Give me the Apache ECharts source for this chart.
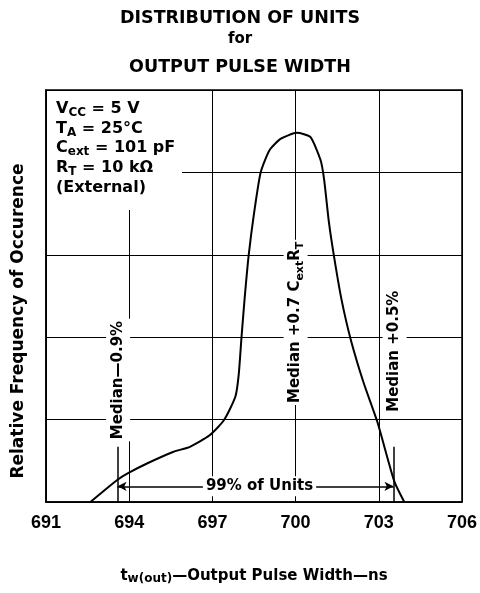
<!DOCTYPE html>
<html><head><meta charset="utf-8">
<script src="https://cdn.jsdelivr.net/npm/echarts@6/dist/echarts.min.js"></script>
<style>html,body{margin:0;padding:0;background:#fff}#c{width:480px;height:593px}</style>
</head><body><div id="c"></div>
<script>
// Axis
const xTicks = [691, 694, 697, 700, 703, 706];
const yMax = 5;
// Distribution curve (tw in ns, relative frequency)
const curveX = [692.6, 693.1, 693.58, 693.96, 694.66, 695.6, 696.19, 696.9, 697.42, 697.83, 697.95, 698.05, 698.17, 698.31, 698.5, 698.74, 699.06, 699.47, 700.05, 700.53, 700.9, 701.03, 701.2, 701.4, 701.66, 701.99, 702.45, 702.95, 703.56, 703.92];
const curveY = [0, 0.14, 0.27, 0.35, 0.47, 0.61, 0.67, 0.81, 0.995, 1.28, 1.55, 2.0, 2.5, 3.0, 3.5, 4.0, 4.27, 4.41, 4.48, 4.43, 4.15, 3.91, 3.4, 2.95, 2.45, 1.97, 1.45, 0.97, 0.25, 0];
// Annotation markers
const medianLow = 693.58, medianHigh = 703.53;
const markerTop = 0.67;
const arrowY = 0.19;
const labelTexts = ['Median\u20140.9%', 'Median +0.7 C{sub|ext}R{sub|T}', 'Median +0.5%', '99% of Units'];
const labelPos = [[693.6, 1.48], [700, 2.18], [703.57, 1.83], [698.7, 0.19]];
const conditions = ['V{sub|CC} = 5 V', 'T{sub|A} = 25\u00b0C', 'C{sub|ext} = 101 pF', 'R{sub|T} = 10 k\u03a9', '(External)'];

const chart = echarts.init(document.getElementById('c'), null, {renderer: 'canvas'});
const F = 'DejaVu Sans';
const richRot = {
  n: {fontFamily: F, fontWeight: 'bold', fontSize: 15, color: '#000', lineHeight: 20, verticalAlign: 'middle'},
  sub: {fontFamily: F, fontWeight: 'bold', fontSize: 11, color: '#000', lineHeight: 12, verticalAlign: 'bottom'}
};
const annotData = labelTexts.map((t, i) => ({
  value: labelPos[i],
  label: {
    show: true, position: 'inside', rotate: i < 3 ? 90 : 0,
    color: '#000', textBorderWidth: 0, opacity: 1,
    formatter: '{n|' + t.replace(/\{sub\|([^}]*)\}/g, '}{sub|$1}{n|') + '}',
    backgroundColor: '#fff', padding: i < 3 ? [2, 2, 2, 2] : [0, 3, 0, 3],
    rich: richRot
  }
}));

const option = {
  animation: false,
  backgroundColor: '#fff',
  grid: {left: 46, right: 13, top: 90, bottom: 91, show: true, borderColor: '#000', borderWidth: 1.5},
  xAxis: {
    type: 'value', min: xTicks[0], max: xTicks[xTicks.length - 1], interval: 3,
    axisLine: {show: true, lineStyle: {color: '#000', width: 1.5}},
    axisTick: {show: false},
    splitLine: {show: true, lineStyle: {color: '#000', width: 1}},
    axisLabel: {show: true, margin: 12, fontFamily: 'Liberation Sans', fontWeight: 'bold', fontSize: 18, color: '#000',
      customValues: xTicks, formatter: v => String(v)},
    name: '{t|t}{s|w(out)}{t|\u2014Output Pulse Width\u2014ns}',
    nameLocation: 'middle', nameGap: 65,
    nameTextStyle: {rich: {
      t: {fontFamily: F, fontWeight: 'bold', fontSize: 15, color: '#000', lineHeight: 18, verticalAlign: 'middle'},
      s: {fontFamily: F, fontWeight: 'bold', fontSize: 12, color: '#000', lineHeight: 12, verticalAlign: 'bottom'}
    }}
  },
  yAxis: {
    type: 'value', min: 0, max: yMax, interval: 1,
    axisLine: {show: true, lineStyle: {color: '#000', width: 1.5}},
    axisTick: {show: false}, axisLabel: {show: false},
    splitLine: {show: true, lineStyle: {color: '#000', width: 1}}
  },
  graphic: [
    {type: 'text', left: 'center', top: 9, style: {text: 'DISTRIBUTION OF UNITS', font: 'bold 17.5px "DejaVu Sans"', fill: '#000'}, z: 10},
    {type: 'text', left: 'center', top: 32, style: {text: 'for', font: 'bold 15px "DejaVu Sans"', fill: '#000'}, z: 10},
    {type: 'text', left: 'center', top: 58, style: {text: 'OUTPUT PULSE WIDTH', font: 'bold 17.5px "DejaVu Sans"', fill: '#000'}, z: 10},
    {type: 'text', x: 19, y: 321, rotation: Math.PI / 2, style: {text: 'Relative Frequency of Occurence', font: 'bold 17px "DejaVu Sans"', fill: '#000', align: 'center', verticalAlign: 'middle'}, z: 10},
    {type: 'rect', shape: {x: 47, y: 91, width: 135, height: 119}, style: {fill: '#fff'}, z: 5},
    {type: 'text', x: 56, y: 99, z: 10, style: {
      text: conditions.map(c => '{n|' + c.replace(/\{sub\|([^}]*)\}/g, '}{sub|$1}{n|') + '}').join('\n'),
      rich: {
        n: {font: 'bold 16px "DejaVu Sans"', fill: '#000', lineHeight: 19.7, verticalAlign: 'middle'},
        sub: {font: 'bold 12px "DejaVu Sans"', fill: '#000', lineHeight: 12, verticalAlign: 'bottom'}
      }
    }}
  ],
  series: [
    {
      type: 'line', data: curveX.map((x, i) => [x, curveY[i]]),
      smooth: 0.2, symbol: 'none', lineStyle: {color: '#000', width: 2}, z: 3,
      markLine: {
        silent: true, animation: false, symbol: ['none', 'none'],
        label: {show: false},
        lineStyle: {color: '#000', width: 1.5, type: 'solid'},
        data: [
          [{coord: [medianLow, 0]}, {coord: [medianLow, markerTop]}],
          [{coord: [medianHigh, 0]}, {coord: [medianHigh, markerTop]}],
          [{coord: [medianLow, arrowY], symbol: 'arrow', symbolSize: [7, 9]}, {coord: [medianHigh, arrowY], symbol: 'arrow', symbolSize: [7, 9]}]
        ]
      }
    },
    {
      type: 'scatter', symbolSize: 0, z: 6, data: annotData, silent: true,
      itemStyle: {opacity: 1}
    }
  ]
};
chart.setOption(option);
</script></body></html>
